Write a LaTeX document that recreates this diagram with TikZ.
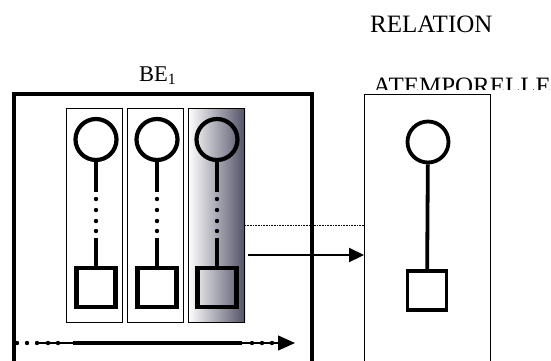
\documentclass[tikz,border=0pt]{standalone}
\usepackage{fontspec}
\setmainfont{Liberation Serif}
\usetikzlibrary{arrows.meta}

\definecolor{slate}{RGB}{82,82,104}

\begin{document}
\begin{tikzpicture}[x=1pt,y=-1pt,
  thinbox/.style={line width=0.9pt},
  thickbox/.style={line width=4pt},
  stem/.style={line width=4.2pt},
  ring/.style={circle, draw, line width=4.2pt, minimum size=41pt, inner sep=0pt},
  cell/.style={draw, line width=4.2pt, minimum size=39pt, inner sep=0pt},
  bigtxt/.style={inner sep=0pt, anchor=base west, font=\fontsize{25}{25}\selectfont}]
  \useasboundingbox (0,0) rectangle (551,360);
  % titles
  \node[bigtxt] (rel) at (370,32) {RELATION};
  \begin{scope}
    \clip (360,60) rectangle (551,89);
    \node[bigtxt] (atemp) at (373,94.5) {ATEMPORELLE};
  \end{scope}
  \node[inner sep=0pt, anchor=base west, font=\fontsize{22.5}{22.5}\selectfont] (be) at (139,81) {BE\textsubscript{1}};
  % frames, open at the bottom
  \draw[thickbox] (14,380) -- (14,93.5) -- (311.5,93.5) -- (311.5,380);
  \draw[thinbox] (364,380) -- (364,94) -- (490,94) -- (490,380);
  % shaded last column
  \shade[left color=white, right color=slate] (188,108) rectangle (245,322);
  \foreach \cx/\bx [count=\i] in {96/66, 157/127, 217/188} {
    \draw[thinbox] (\bx,108) rectangle ++(56.5,214);
    \node[ring] (c\i) at (\cx,139.5) {};
    \node[cell] (s\i) at (\cx,287.5) {};
    \draw[stem] (c\i.south) -- ++(0,30);
    \foreach \y in {199,210,221,231}
      \fill (\cx,\y) circle (2.2pt);
    \draw[stem] (\cx,238) -- (s\i.north);
  }
  % right column
  \node[ring, line width=3.8pt] (cR) at (428,142) {};
  \node[cell, line width=3.8pt] (sR) at (427,290.5) {};
  \draw[line width=3.8pt] (cR) -- (sR);
  % links to the relation
  \coordinate (dotA) at (245,225);
  \coordinate (dotB) at (364,225);
  \coordinate (arrA) at (248,255);
  \coordinate (arrB) at (364,255);
  \draw[line width=0.6pt, dash pattern=on 0.8pt off 0.8pt] (dotA) -- (dotB);
  \draw[line width=2.2pt, -{Triangle[length=15pt, width=14pt]}] (arrA) -- (arrB);
  % time axis
  \coordinate (t0) at (35,343);
  \coordinate (t1) at (73,343);
  \coordinate (t2) at (242,343);
  \coordinate (t3) at (295,343);
  \draw[line width=1.3pt] (t0) -- (t1);
  \draw[line width=4.5pt] (t1) -- (t2);
  \draw[line width=1.3pt, -{Triangle[length=17pt, width=15pt]}] (t2) -- (t3);
  \foreach \x in {17,27,37,48,58,252,262,272}
    \fill (\x,343) circle (2.2pt);
\end{tikzpicture}
\end{document}
